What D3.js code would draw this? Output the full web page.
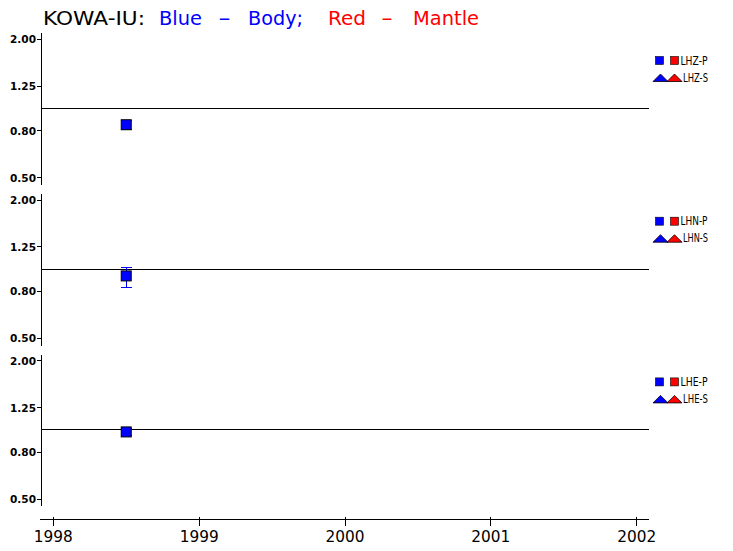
<!DOCTYPE html>
<html>
<head>
<meta charset="utf-8">
<script src="https://cdn.jsdelivr.net/npm/d3@7"></script>
<style>
  body { margin: 0; background: #fff; }
  svg { display: block; }
  line { shape-rendering: crispEdges; }
</style>
</head>
<body>
<svg id="chart" width="733" height="551"></svg>
<script>
// station / channels
const station = "KOWA-IU:";
const channels = ["LHZ", "LHN", "LHE"];

// body-wave P ratios (blue squares) with error bar limits, one list per channel
const obsDates = [1998.5];
const bodyP = [[0.85], [0.935], [0.98]];
const bodyPLow = [[0.81], [0.833], [0.95]];
const bodyPHigh = [[0.89], [1.017], [1.01]];

// ticks
const yTicks = [0.50, 0.80, 1.25, 2.00];
const xTicks = [1998, 1999, 2000, 2001, 2002];

var svg = d3.select("#chart");
const blue = "#0000ff", red = "#ff0000";

// title pieces: [text, color, x start, x end]
const titleParts = [
  [station, "#000", 43, 145],
  ["Blue", blue, 159, 202],
  ["-", blue, 218, 231],
  ["Body;", blue, 248, 303],
  ["Red", red, 328, 366],
  ["-", red, 381, 393],
  ["Mantle", red, 413, 479]
];
svg.append("g").selectAll("text")
  .data(titleParts)
  .enter().append("text")
  .attr("x", d => d[2])
  .attr("y", 25)
  .attr("textLength", d => d[3] - d[2])
  .attr("lengthAdjust", "spacingAndGlyphs")
  .attr("fill", d => d[1])
  .style("font-family", "DejaVu Sans")
  .style("font-size", "19.5px")
  .text(d => d[0]);

// x scale shared by all panels
var x = d3.scaleLinear().domain([1998, 2002]).range([53.3, 636.7]);

const panelStep = 160.7;
const left = 41, right = 649;

channels.forEach(function(ch, i) {
  var off = i * panelStep;
  var y = d3.scaleLog().domain([0.5, 2]).range([177.7 + off, 39.3 + off]);
  var g = svg.append("g");

  // y axis line
  g.append("line")
    .attr("x1", left).attr("x2", left)
    .attr("y1", 33.3 + off).attr("y2", 185 + off)
    .attr("stroke", "#000");

  // y ticks
  g.selectAll(".yt").data(yTicks).enter().append("line")
    .attr("x1", left - 4).attr("x2", left)
    .attr("y1", d => y(d)).attr("y2", d => y(d))
    .attr("stroke", "#000");
  g.selectAll(".yl").data(yTicks).enter().append("text")
    .attr("x", 36).attr("y", d => y(d) + 4)
    .attr("text-anchor", "end")
    .attr("textLength", 26).attr("lengthAdjust", "spacingAndGlyphs")
    .style("font-family", "DejaVu Sans")
    .style("font-weight", "bold")
    .style("font-size", "10.5px")
    .text(d => d.toFixed(2));

  // reference line at 1.0
  g.append("line")
    .attr("x1", left).attr("x2", right)
    .attr("y1", y(1)).attr("y2", y(1))
    .attr("stroke", "#000");

  // error bars
  obsDates.forEach(function(t, k) {
    var cx = x(t);
    var lo = y(bodyPLow[i][k]), hi = y(bodyPHigh[i][k]);
    g.append("line").attr("x1", cx).attr("x2", cx).attr("y1", lo).attr("y2", hi)
      .attr("stroke", blue);
    [lo, hi].forEach(function(v) {
      g.append("line").attr("x1", cx - 5.5).attr("x2", cx + 5.5).attr("y1", v).attr("y2", v)
        .attr("stroke", blue);
    });
  });

  // body P squares
  g.selectAll(".pt").data(obsDates).enter().append("rect")
    .attr("x", d => x(d) - 5)
    .attr("y", (d, k) => y(bodyP[i][k]) - 5)
    .attr("width", 10).attr("height", 10)
    .attr("fill", blue)
    .attr("stroke", "#000")
    .attr("stroke-width", 1);

  // legend
  var lg = g.append("g").attr("transform", "translate(0," + off + ")");
  lg.append("rect").attr("x", 655.5).attr("y", 56.5).attr("width", 8).attr("height", 8)
    .attr("fill", blue).attr("stroke", "#000").attr("stroke-width", 0.6);
  lg.append("rect").attr("x", 670.5).attr("y", 56.5).attr("width", 8).attr("height", 8)
    .attr("fill", red).attr("stroke", "#000").attr("stroke-width", 0.6);
  lg.append("text").attr("x", 680.5).attr("y", 64.5)
    .attr("textLength", 27).attr("lengthAdjust", "spacingAndGlyphs")
    .style("font-family", "DejaVu Sans").style("font-size", "11.5px")
    .text(ch + "-P");
  lg.append("path").attr("d", "M653,81.5L660.5,74L668,81.5Z")
    .attr("fill", blue).attr("stroke", "#000").attr("stroke-width", 0.8);
  lg.append("path").attr("d", "M667,81.5L674.5,74L682,81.5Z")
    .attr("fill", red).attr("stroke", "#000").attr("stroke-width", 0.8);
  lg.append("text").attr("x", 683).attr("y", 81.5)
    .attr("textLength", 25).attr("lengthAdjust", "spacingAndGlyphs")
    .style("font-family", "DejaVu Sans").style("font-size", "11.5px")
    .text(ch + "-S");
});

// x axis
var xa = svg.append("g");
xa.append("line").attr("x1", 40).attr("x2", right).attr("y1", 519).attr("y2", 519)
  .attr("stroke", "#000");
xa.selectAll(".xt").data(xTicks).enter().append("line")
  .attr("x1", d => x(d)).attr("x2", d => x(d))
  .attr("y1", 517).attr("y2", 526)
  .attr("stroke", "#000");
xa.selectAll(".xl").data(xTicks).enter().append("text")
  .attr("x", d => x(d)).attr("y", 542)
  .attr("text-anchor", "middle")
  .attr("textLength", 39).attr("lengthAdjust", "spacingAndGlyphs")
  .style("font-family", "DejaVu Sans")
  .style("font-size", "15px")
  .text(d => d);
</script>
</body>
</html>
